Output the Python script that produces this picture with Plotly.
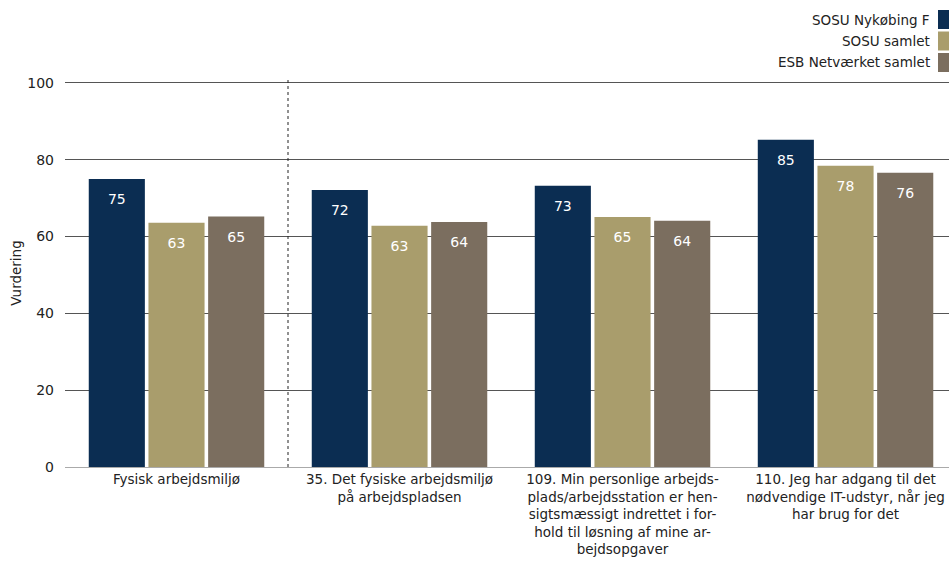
import plotly.graph_objects as go

categories = [
    "Fysisk arbejdsmiljø",
    "35. Det fysiske arbejdsmiljø<br>på arbejdspladsen",
    "109. Min personlige arbejds-<br>plads/arbejdsstation er hen-<br>sigtsmæssigt indrettet i for-<br>hold til løsning af mine ar-<br>bejdsopgaver",
    "110. Jeg har adgang til det<br>nødvendige IT-udstyr, når jeg<br>har brug for det",
]
series_names = ["SOSU Nykøbing F", "SOSU samlet", "ESB Netværket samlet"]
nykobing = [75.0, 72.1, 73.2, 85.2]
sosu_samlet = [63.6, 62.8, 65.1, 78.4]
esb_samlet = [65.2, 63.8, 64.1, 76.6]
nykobing_labels = ["75", "72", "73", "85"]
sosu_samlet_labels = ["63", "63", "65", "78"]
esb_samlet_labels = ["65", "64", "64", "76"]
colors = ["#0b2d52", "#a99d6c", "#7b6e5f"]
y_ticks = [0, 20, 40, 60, 80, 100]

FONT = "DejaVu Sans"
W, H = 949, 569
ML, MR, MT, MB = 65, 0, 79, 102
PW, PH = W - ML - MR, H - MT - MB

fig = go.Figure()
for name, vals, labs, col in zip(series_names,
                                 [nykobing, sosu_samlet, esb_samlet],
                                 [nykobing_labels, sosu_samlet_labels, esb_samlet_labels],
                                 colors):
    fig.add_trace(go.Bar(
        x=list(range(len(categories))), y=vals, name=name,
        marker=dict(color=col, line=dict(width=0)),
        text=labs,
        textposition="inside", insidetextanchor="end",
        textfont=dict(color="white", size=14, family=FONT),
        texttemplate="<span style='font-size:4px'> </span><br>%{text}",
        showlegend=False,
    ))

# dotted separator between the first group and the others
fig.add_shape(type="line", xref="x", yref="paper", x0=0.5, x1=0.5, y0=0, y1=1,
              line=dict(color="#222", width=1, dash="dot"))

# custom legend (text left of colour box)
for i, (name, col) in enumerate(zip(series_names, colors)):
    yc_top = 19.5 + i * 21.5
    yp = (H - MB - yc_top) / PH
    fig.add_annotation(xref="paper", yref="paper", x=(932 - ML) / PW, y=yp,
                       text=name, showarrow=False, xanchor="right", yanchor="middle",
                       font=dict(family=FONT, size=13.5, color="#222"))
    fig.add_shape(type="rect", xref="paper", yref="paper",
                  x0=(938 - ML) / PW, x1=(949 - ML) / PW,
                  y0=(H - MB - yc_top - 9.5) / PH, y1=(H - MB - yc_top + 9.5) / PH,
                  fillcolor=col, line=dict(width=0))

fig.update_layout(
    width=W, height=H,
    margin=dict(l=ML, r=MR, t=MT, b=MB, autoexpand=False),
    paper_bgcolor="white", plot_bgcolor="white",
    barmode="group", bargap=0.197, bargroupgap=0.06,
    font=dict(family=FONT, size=13.5, color="#222"),
    xaxis=dict(range=[-0.5, 3.464], tickvals=list(range(len(categories))), ticktext=categories,
               showgrid=False, showline=True, linecolor="#aaa", linewidth=1, ticks="",
               tickfont=dict(size=13.5, family=FONT), zeroline=False, automargin=False),
    yaxis=dict(range=[0, 101], tickvals=y_ticks, showgrid=True, gridcolor="#555", gridwidth=1,
               zeroline=False, ticks="", ticklen=0, tickfont=dict(size=14, family=FONT),
               title=dict(text="Vurdering", font=dict(size=13.5, family=FONT), standoff=2),
               ticklabelstandoff=10, automargin=False),
)
fig.write_html("out.html", config={"displayModeBar": False},
               post_script="document.body.style.margin='0';document.body.style.overflow='hidden';")
